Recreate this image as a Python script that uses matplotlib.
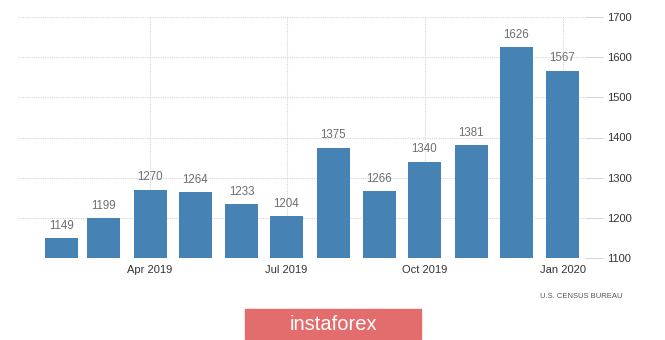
import matplotlib.pyplot as plt
import matplotlib.dates as mdates
from matplotlib.patches import Rectangle
import datetime as dt

# housing starts, thousands of units (monthly)
months = ['2019-02', '2019-03', '2019-04', '2019-05', '2019-06', '2019-07',
          '2019-08', '2019-09', '2019-10', '2019-11', '2019-12', '2020-01']
starts = [1149, 1199, 1270, 1264, 1233, 1204, 1375, 1266, 1340, 1381, 1626, 1567]
tick_months = ['2019-04', '2019-07', '2019-10', '2020-01']
tick_labels = ['Apr 2019', 'Jul 2019', 'Oct 2019', 'Jan 2020']
y_ticks = [1100, 1200, 1300, 1400, 1500, 1600, 1700]

plt.rcParams['font.family'] = ['Liberation Sans', 'DejaVu Sans']

def to_date(s):
    return dt.datetime.strptime(s, '%Y-%m')

x = mdates.date2num([to_date(m) for m in months])
xt = mdates.date2num([to_date(m) for m in tick_months])

W, H = 665, 340
fig = plt.figure(figsize=(W / 100, H / 100), dpi=100)
left, right, top, bottom = 18, 585, 17.3, 257.7
ax = fig.add_axes([left / W, 1 - bottom / H, (right - left) / W, (bottom - top) / H])

ax.bar(x, starts, width=22, color='#4682b4', zorder=2)
for xi, v in zip(x, starts):
    ax.annotate(str(v), (xi, v), xytext=(0, 4.5), textcoords='offset points',
                ha='center', va='bottom', fontsize=8.3, color='#6e6e6e')

ax.set_xlim(mdates.date2num(dt.datetime(2019, 1, 3)), mdates.date2num(dt.datetime(2020, 1, 16)))
ax.set_ylim(1100, 1700)
ax.set_xticks(xt)
ax.set_xticklabels(tick_labels)
ax.set_yticks(y_ticks)

ax.yaxis.tick_right()
ax.tick_params(axis='y', length=13, width=0.8, color='#d8d8d8', pad=3,
               labelsize=8, labelcolor='#333333')
ax.tick_params(axis='x', length=0, pad=5, labelsize=8, labelcolor='#333333')
ax.grid(True, color='#d5d5d5', linestyle=(0, (1, 1)), linewidth=0.8, zorder=0)
for s in ax.spines.values():
    s.set_visible(False)

fig.text(623 / W, 1 - 296 / H, 'U.S. CENSUS BUREAU', ha='right', va='center',
         fontsize=5.5, color='#555555')

# logo box at the bottom
fig.patches.append(Rectangle((245 / W, 1 - 339 / H), 176 / W, 30 / H,
                             transform=fig.transFigure, color='#e36c6c'))
fig.text(333 / W, 1 - 324 / H, 'instaforex', ha='center', va='center',
         fontsize=14.5, color='white')

fig.savefig('out.png', dpi=100)
